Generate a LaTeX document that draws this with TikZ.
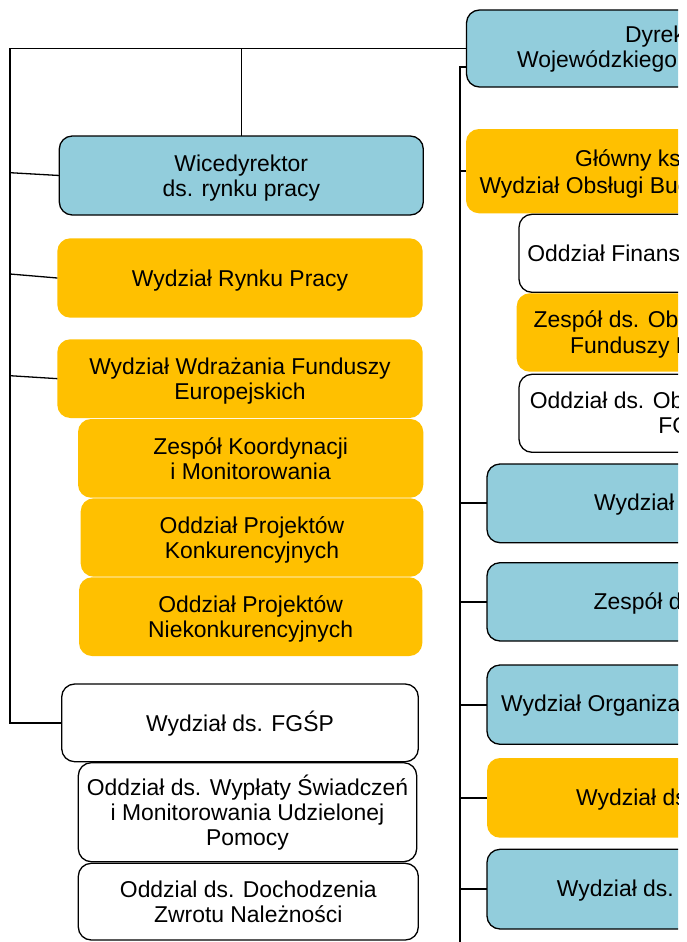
\documentclass[tikz,border=0pt]{standalone}
\usepackage{fontspec}
\setmainfont{Liberation Sans}
\definecolor{boxblue}{HTML}{92CDDC}
\definecolor{boxyellow}{HTML}{FFC000}
\newcommand\fs{\rule{0pt}{22.5pt}}
\newcommand\ls{\rule[-6.03pt]{0pt}{6.03pt}}
\begin{document}
\begin{tikzpicture}[x=1pt,y=-1pt,
  box/.style={rectangle, rounded corners=13pt, inner sep=0pt, outer sep=0pt, align=center,
    font=\fontsize{22.9}{25}\selectfont, line width=1.3pt},
  bluebox/.style={box, draw=black, fill=boxblue},
  yelbox/.style={box, fill=boxyellow},
  whitebox/.style={box, draw=black, fill=white},
  rtext/.style={anchor=base west, inner sep=0pt, font=\fontsize{22.9}{25}\selectfont},
  conn/.style={line width=1.3pt},
  spine/.style={line width=2pt}]
\useasboundingbox (0,0) rectangle (686,942);
\clip (0,0) rectangle (678,942);

% ---------- left column ----------
\node[bluebox, minimum width=364pt, minimum height=79pt] (wice) at (241.3,175.5)
  {\fs Wicedyrektor\\ds. rynku pracy\ls};
\node[yelbox, minimum width=365.4pt, minimum height=79.4pt] (rynek) at (240,278)
  {\fs Wydział Rynku Pracy\ls};
\node[yelbox, minimum width=365.4pt, minimum height=78.7pt] (wdr) at (240,378.65)
  {\fs Wydział Wdrażania Funduszy\\Europejskich\ls};
\node[yelbox, minimum width=345.3pt, minimum height=78.7pt] (zk) at (250.65,458.35)
  {\fs Zespół Koordynacji\\i Monitorowania\ls};
\node[yelbox, minimum width=342.6pt, minimum height=78.4pt] (konk) at (252,537.5)
  {\fs Oddział Projektów\\Konkurencyjnych\ls};
\node[yelbox, minimum width=343.3pt, minimum height=78.7pt] (niek) at (250.65,616.65)
  {\fs Oddział Projektów\\Niekonkurencyjnych\ls};
\node[whitebox, minimum width=356.6pt, minimum height=77.7pt] (fgsp) at (240,722.85)
  {\fs Wydział ds. FGŚP\ls};
\node[whitebox, minimum width=338.4pt, minimum height=99pt] (wyp) at (247.5,812.2)
  {\fs Oddział ds. Wypłaty Świadczeń\\i Monitorowania Udzielonej\\Pomocy\ls};
\node[whitebox, minimum width=340pt, minimum height=76.7pt] (doch) at (248.3,901.65)
  {\fs Oddzial ds. Dochodzenia\\Zwrotu Należności\ls};

% ---------- right column (cut by the page edge) ----------
\node[bluebox, minimum width=333.5pt, minimum height=77pt] (dyr) at (633.25,48.5) {};
\node[yelbox, minimum width=334pt, minimum height=84.3pt] (glo) at (633,171.15) {};
\node[whitebox, minimum width=281pt, minimum height=78pt] (fin) at (659.5,253.3) {};
\node[yelbox, minimum width=283.3pt, minimum height=78.4pt] (zes) at (658.35,332.5) {};
\node[whitebox, minimum width=281pt, minimum height=78pt] (obs) at (659.5,413.3) {};
\node[bluebox, minimum width=313pt, minimum height=78.7pt] (wa) at (643.5,503.35) {};
\node[bluebox, minimum width=313pt, minimum height=78.3pt] (wb) at (643.5,601.85) {};
\node[bluebox, minimum width=313pt, minimum height=79.3pt] (wc) at (643.5,704.65) {};
\node[yelbox, minimum width=313pt, minimum height=79.7pt] (wd) at (643.5,797.85) {};
\node[bluebox, minimum width=313pt, minimum height=79.7pt] (we) at (643.5,889.15) {};

\node[rtext] (dyrA) at (624.9,42.7) {Dyrektor};
\node[rtext] (dyrB) at (517,67.7) {Wojewódzkiego};
\node[rtext] (gloA) at (575,166.7) {Główny księgowy};
\node[rtext] (gloB) at (479.3,193.5) {Wydział Obsługi Budżetowej};
\node[rtext] (finA) at (527.2,261.7) {Oddział Finansowy};
\node[rtext] (zesA) at (533.5,327.3) {Zespół ds. Obsługi};
\node[rtext] (zesB) at (570,353.3) {Funduszy Europejskich};
\node[rtext] (obsA) at (529.6,408.3) {Oddział ds. Obsługi};
\node[rtext] (obsB) at (658.2,433.3) {FGŚP};
\node[rtext] (waA) at (594,510.7) {Wydział};
\node[rtext] (wbA) at (593.5,609.3) {Zespół ds.};
\node[rtext] (wcA) at (501,711.7) {Wydział Organizacyjny};
\node[rtext] (wdA) at (576,805) {Wydział ds.};
\node[rtext] (weA) at (556.7,896.7) {Wydział ds.};

% ---------- connectors ----------
\coordinate (tl) at (10,48.5);
\draw[conn] (dyr.west) -- (tl) |- (fgsp.west);
\draw[conn] (wice.north) -- (wice.north |- tl);
\coordinate (a1) at (10,172.7);
\coordinate (a2) at (10,274);
\coordinate (a3) at (10,375.7);
\draw[conn] (a1) -- (wice.west);
\draw[conn] (a2) -- (rynek.west);
\draw[conn] (a3) -- (wdr.west);

\coordinate (s0) at (460,67);
\coordinate (s1) at (460,942);
\draw[spine] (dyr.west |- s0) -- (s0) -- (s1);
\draw[spine] (glo.west -| s0) -- (glo.west);
\draw[spine] (wa.west -| s0) -- (wa.west);
\draw[spine] (wb.west -| s0) -- (wb.west);
\draw[spine] (wc.west -| s0) -- (wc.west);
\draw[spine] (wd.west -| s0) -- (wd.west);
\draw[spine] (we.west -| s0) -- (we.west);
\end{tikzpicture}
\end{document}
